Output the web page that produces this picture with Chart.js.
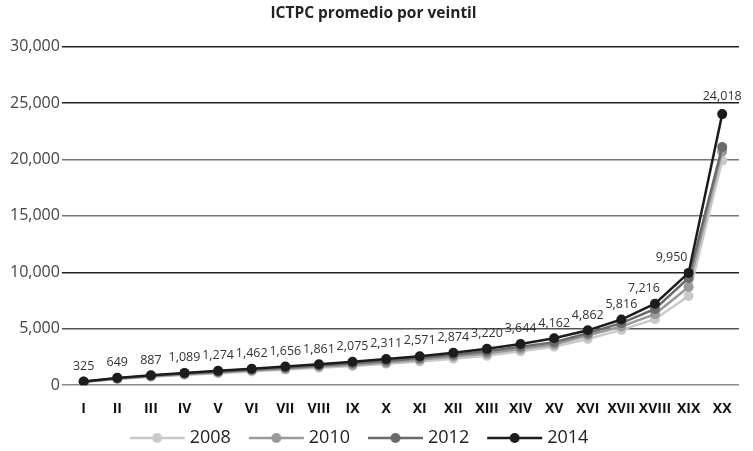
<!DOCTYPE html>
<html>
<head>
<meta charset="utf-8">
<script src="https://cdn.jsdelivr.net/npm/chart.js@4"></script>
<style>
  body { margin: 0; background: #fff; }
  #wrap { width: 753px; height: 451px; position: relative; }
</style>
</head>
<body>
<div id="wrap"><canvas id="chart"></canvas></div>
<script>
const veintiles = ['I', 'II', 'III', 'IV', 'V', 'VI', 'VII', 'VIII', 'IX', 'X',
  'XI', 'XII', 'XIII', 'XIV', 'XV', 'XVI', 'XVII', 'XVIII', 'XIX', 'XX'];

const y2008 = [280, 545, 740, 910, 1060, 1220, 1380, 1550, 1700, 1900,
  2100, 2350, 2600, 3000, 3400, 4100, 4900, 5850, 7900, 19900];
const y2010 = [295, 580, 790, 970, 1130, 1300, 1450, 1650, 1800, 2000,
  2250, 2550, 2800, 3200, 3600, 4400, 5200, 6300, 8700, 20700];
const y2012 = [310, 615, 840, 1030, 1200, 1380, 1550, 1750, 1950, 2150,
  2400, 2700, 3000, 3400, 3800, 4600, 5500, 6750, 9500, 21100];
const y2014 = [325, 649, 887, 1089, 1274, 1462, 1656, 1861, 2075, 2311,
  2571, 2874, 3220, 3644, 4162, 4862, 5816, 7216, 9950, 24018];

const seriesNames = ['2008', '2010', '2012', '2014'];
const seriesColors = ['#c9c9c9', '#9a9a9a', '#6a6a6a', '#1c1c1c'];
const allSeries = [y2008, y2010, y2012, y2014];

// legend swatch: line with a dot in the middle (canvas wider than the box so the line sits right)
function legendSwatch(color) {
  const c = document.createElement('canvas');
  c.width = 80; c.height = 12;
  const g = c.getContext('2d');
  g.strokeStyle = color;
  g.lineWidth = 2.5;
  g.beginPath(); g.moveTo(18, 6); g.lineTo(73, 6); g.stroke();
  g.fillStyle = color;
  g.beginPath(); g.arc(45.5, 6, 5, 0, Math.PI * 2); g.fill();
  return c;
}

const fmt = v => v.toLocaleString('en-US');

// value labels for the 2014 series
const valueLabels = {
  id: 'valueLabels',
  afterDatasetsDraw(chart) {
    const meta = chart.getDatasetMeta(3);
    const ctx = chart.ctx;
    ctx.save();
    ctx.font = '12.5px "Open Sans"';
    ctx.fillStyle = '#333';
    ctx.textAlign = 'center';
    ctx.textBaseline = 'bottom';
    meta.data.forEach((pt, i) => {
      let dx = 0, dy = 9;
      if (i === 17) dx = -11;
      if (i === 18) dx = -17;
      if (i === 19) dy = 11;
      ctx.fillText(fmt(y2014[i]), pt.x + dx, pt.y - dy);
    });
    ctx.restore();
  }
};

// legend in the source sits a bit left of centre
const legendShift = {
  id: 'legendShift',
  afterLayout(chart) {
    chart.legend.right -= 36;
  }
};

const gridColors = { 0: '#8a8a8a', 5000: '#555', 10000: '#222', 15000: '#777', 20000: '#777', 25000: '#222', 30000: '#222' };

new Chart(document.getElementById('chart'), {
  type: 'line',
  data: {
    labels: veintiles,
    datasets: allSeries.map((d, i) => ({
      label: seriesNames[i],
      data: d,
      borderColor: seriesColors[i],
      backgroundColor: seriesColors[i],
      borderWidth: 2.5,
      pointRadius: 5,
      pointHoverRadius: 5,
      pointBorderWidth: 0,
      tension: 0,
      order: 3 - i,
      pointStyle: 'circle'
    }))
  },
  options: {
    responsive: true,
    maintainAspectRatio: false,
    animation: false,
    layout: { padding: { left: 8, right: 14, top: 4, bottom: -6 } },
    plugins: {
      title: {
        display: true,
        text: 'ICTPC promedio por veintil',
        color: '#222',
        font: { family: 'Open Sans', size: 15.5, weight: 'bold' },
        padding: { top: 0, bottom: 24 }
      },
      legend: {
        position: 'bottom',
        labels: {
          usePointStyle: true,
          pointStyleWidth: 58,
          padding: 11,
          color: '#222',
          font: { family: 'Open Sans', size: 18 },
          generateLabels: chart => chart.data.datasets.map((ds, i) => ({
            text: ds.label,
            pointStyle: legendSwatch(seriesColors[i]),
            fillStyle: seriesColors[i],
            strokeStyle: seriesColors[i],
            lineWidth: 0,
            fontColor: '#222',
            datasetIndex: i,
            hidden: false
          }))
        }
      },
      tooltip: { enabled: false }
    },
    scales: {
      x: {
        offset: true,
        grid: { display: false, drawTicks: true, tickLength: 14 },
        border: { display: false },
        ticks: {
          color: '#111',
          font: { family: 'Open Sans', size: 14, weight: 'bold' },
          padding: 1,
          maxRotation: 0,
          autoSkip: false
        }
      },
      y: {
        min: 0,
        max: 30000,
        border: { display: false },
        grid: {
          color: c => gridColors[c.tick ? c.tick.value : 0] || '#555',
          lineWidth: 1.5,
          drawTicks: true,
          tickLength: 5
        },
        ticks: {
          stepSize: 5000,
          color: '#444',
          padding: 2,
          font: { family: 'Open Sans', size: 16 },
          callback: v => fmt(v)
        }
      }
    }
  },
  plugins: [valueLabels, legendShift]
});
</script>
</body>
</html>
